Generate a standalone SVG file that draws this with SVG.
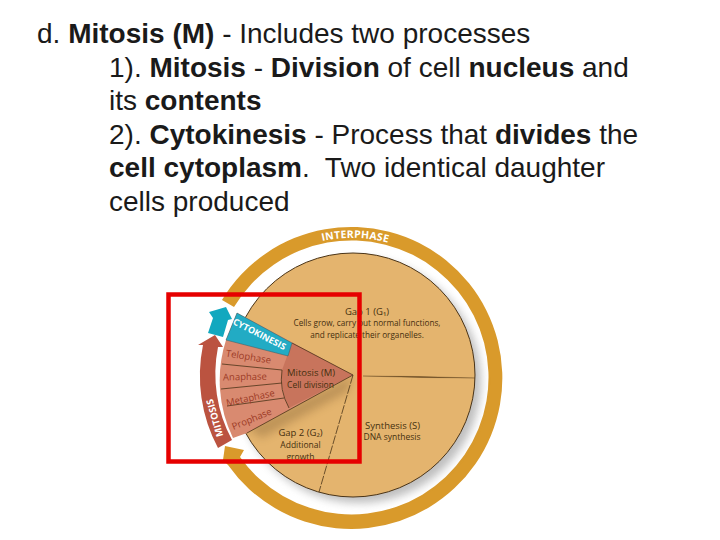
<svg xmlns="http://www.w3.org/2000/svg" width="720" height="540" viewBox="0 0 720 540">
<style>
.h{font-family:"Liberation Sans",Arial,sans-serif;font-size:28px;fill:#1a1a1a;white-space:pre}
.b{font-weight:bold}
.c{font-family:"Open Sans","Liberation Sans",sans-serif;text-anchor:middle;fill:#45300f}
.p{font-family:"Open Sans","Liberation Sans",sans-serif;text-anchor:middle;font-size:9.5px;fill:#9c3a26}
.w{font-family:"Open Sans","Liberation Sans",sans-serif;font-weight:bold;fill:#fff;text-anchor:middle}
.div{fill:none;stroke:#4a3418;stroke-width:.8}
</style>
<defs>
<filter id="blur" x="-20%" y="-20%" width="140%" height="140%"><feGaussianBlur stdDeviation="4"/></filter>
<clipPath id="dc"><circle cx="353" cy="375" r="122"/></clipPath>
<path id="arcI" d="M300 248 A138 138 0 0 1 410 250.700"/>
</defs>
<rect width="720" height="540" fill="#fff"/>
<g id="heading">
<text class="h" x="37" y="43">d. <tspan class="b">Mitosis (M)</tspan> - Includes two processes</text>
<text class="h" x="109" y="76.500">1). <tspan class="b">Mitosis</tspan> - <tspan class="b">Division</tspan> of cell <tspan class="b">nucleus</tspan> and</text>
<text class="h" x="109" y="110">its <tspan class="b">contents</tspan></text>
<text class="h" x="109" y="143.500">2). <tspan class="b">Cytokinesis</tspan> - Process that <tspan class="b">divides</tspan> the</text>
<text class="h" x="109" y="177"><tspan class="b">cell cytoplasm</tspan>.  Two identical daughter</text>
<text class="h" x="109" y="211">cells produced</text>
</g>
<g id="interphase-ring">
<path d="M222 300 A151 151 0 1 1 228 465 L223 460 L225 446 L244 450 L240 457 A137 137 0 1 0 234 307 Z" fill="#d99a2b"/>
<text class="w" font-size="10.500" letter-spacing=".2"><textPath href="#arcI" startOffset="50%">INTERPHASE</textPath></text>
</g>
<circle cx="359" cy="381" r="122" fill="#8a8a8a" opacity=".55" filter="url(#blur)"/>
<g id="disc">
<circle cx="353" cy="375" r="122" fill="#e4b46e" stroke="#4a3418" stroke-width="1"/>
<g clip-path="url(#dc)"><path d="M353 375 L347 392 L262 438 L247 428 Z" fill="#7a5a30" opacity=".35" filter="url(#blur)"/></g>
<path class="div" d="M353 375 L319 492" stroke-dasharray="9 1.500"/>
<path d="M363 376 L420 376.500 L475 378 L420 377.500 Z" fill="#5a3e1a" stroke="#5a3e1a" stroke-width=".3"/>
</g>
<g id="mitosis-wedge">
<path d="M237 313 L353 375 L247 433 L233 438 A132 132 0 0 1 226 340 Z" fill="#d98a70"/>
<path d="M292 343 L353 375 L289 408 A70 70 0 0 1 282 370 Z" fill="#c8745c"/>
<path class="div" d="M292 343 L353 375 L247 433 M282 370 Q279 390 289 408"/>
<path class="div" d="M222 364 L282 370 M221 389 L282 383 M227 406 L284 398"/>
<path d="M237 313 L292 343 L288 356 L226 340 Z" fill="#22abc4" stroke="#3a5a60" stroke-width=".5"/>
<text class="w" font-size="9" transform="translate(258 337) rotate(27)">CYTOKINESIS</text>
<text class="p" transform="translate(248 360) rotate(9)">Telophase</text>
<text class="p" transform="translate(245 380) rotate(-1)">Anaphase</text>
<text class="p" transform="translate(251 401) rotate(-12)">Metaphase</text>
<text class="p" transform="translate(253 422) rotate(-22)">Prophase</text>
</g>
<g id="mitosis-arrow">
<path d="M218 448 A153 153 0 0 1 203 345 L198 345 L215 335 L223 347 L218 347 A139 139 0 0 0 232 440 Z" fill="#bb5340"/>
<text class="w" font-size="9.500" transform="translate(218 417) rotate(-106)">MITOSIS</text>
</g>
<g id="cytokinesis-arrow">
<path d="M208 333 L213 318 L209 312 L226 307 L232 319 L228 320 L223 337 Z" fill="#12a8bf"/>
</g>
<g id="labels">
<text class="c" x="367" y="315" font-size="9.500">Gap 1 (G₁)</text>
<text class="c" x="367" y="326" font-size="8.200">Cells grow, carry out normal functions,</text>
<text class="c" x="367" y="338" font-size="8.200">and replicate their organelles.</text>
<text class="c" x="311" y="376" font-size="9.500">Mitosis (M)</text>
<text class="c" x="310.500" y="387.500" font-size="8.500">Cell division</text>
<text class="c" x="300.500" y="436" font-size="9.500">Gap 2 (G₂)</text>
<text class="c" x="300.500" y="448" font-size="8.500">Additional</text>
<text class="c" x="300.500" y="460" font-size="8.500">growth</text>
<text class="c" x="392.500" y="429" font-size="9.500">Synthesis (S)</text>
<text class="c" x="392" y="440" font-size="8.500">DNA synthesis</text>
</g>
<rect id="highlight" x="168.500" y="294.500" width="191" height="167" fill="none" stroke="#e60000" stroke-width="4.500"/>
</svg>
